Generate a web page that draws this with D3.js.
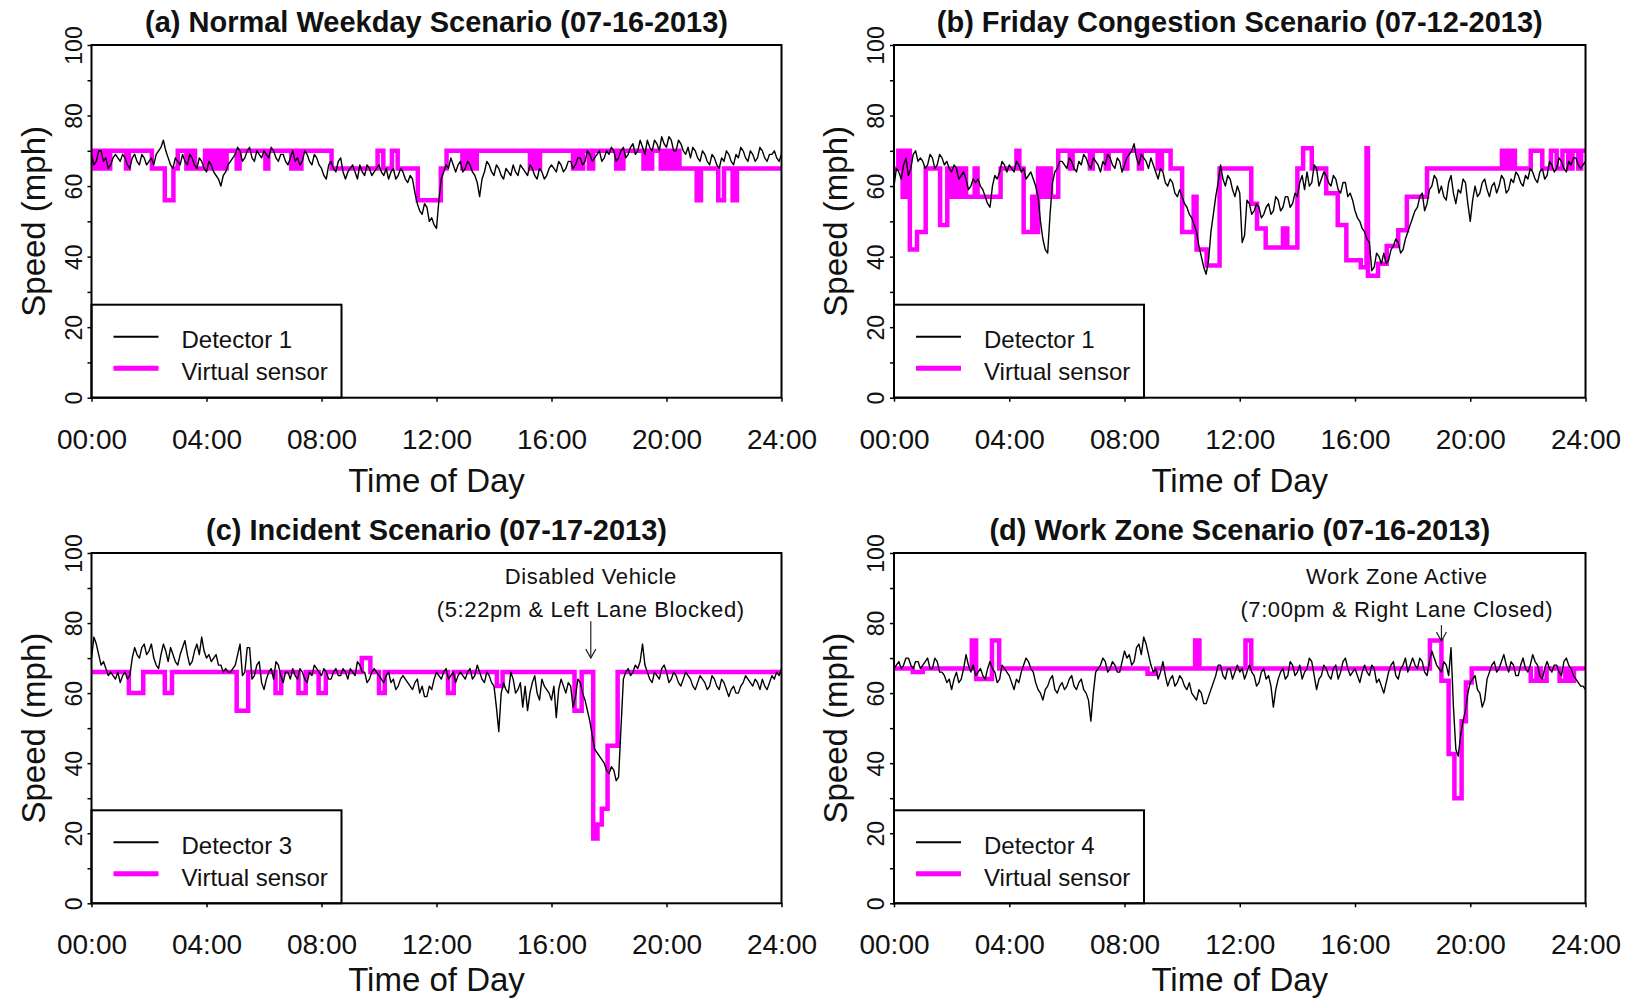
<!DOCTYPE html>
<html>
<head>
<meta charset="utf-8">
<script src="https://cdn.jsdelivr.net/npm/d3@7"></script>
<style>
  html, body { margin: 0; padding: 0; background: #fff; }
  svg { display: block; }
  text { font-family: "Liberation Sans", Arial, Helvetica, sans-serif; fill: #111; }
</style>
</head>
<body>
<svg id="chart" width="1625" height="1000"></svg>
<script>
// ---------- axis ticks and labels ----------
const hourTicks = [0, 4, 8, 12, 16, 20, 24];
const hourLabels = ["00:00", "04:00", "08:00", "12:00", "16:00", "20:00", "24:00"];
const speedTicks = [0, 10, 20, 30, 40, 50, 60, 70, 80, 90, 100];
const speedLabels = [0, 20, 40, 60, 80, 100];

const panelTitles = [
  "(a) Normal Weekday Scenario (07-16-2013)",
  "(b) Friday Congestion Scenario (07-12-2013)",
  "(c) Incident Scenario (07-17-2013)",
  "(d) Work Zone Scenario (07-16-2013)"
];
const detectorNames = ["Detector 1", "Detector 1", "Detector 3", "Detector 4"];
const sensorName = "Virtual sensor";

// ---------- detector speeds (mph), one reading every 5 minutes, 00:00 - 24:00 (one row per hour) ----------
const detectorA = [
  69,66,67,70,70,67,68,65,66,68,69,68,
  67,69,68,66,65,68,69,67,66,69,68,66,
  67,68,66,69,70,71,73,70,68,66,65,68,
  67,66,69,67,66,69,68,66,65,68,67,65,
  64,67,66,64,63,62,60,63,64,66,67,68,
  69,71,70,67,68,70,71,68,67,70,69,68,
  70,69,68,71,70,68,67,69,69,67,66,68,
  70,67,68,66,67,70,69,67,66,69,68,66,
  65,63,62,66,67,65,64,67,68,64,62,64,
  65,66,64,62,66,64,63,66,65,63,64,65,
  66,64,63,65,62,64,65,62,63,65,64,62,
  61,63,62,58,55,53,52,55,54,50,51,49,
  48,56,62,64,66,65,68,66,64,66,67,64,
  65,67,66,64,63,61,57,62,64,67,66,64,
  63,66,65,63,62,65,64,63,66,64,63,66,
  65,64,63,66,65,63,62,65,64,62,63,65,
  66,65,64,67,66,64,65,67,67,65,66,68,
  68,66,67,70,69,67,68,69,70,67,68,70,
  69,71,70,67,68,70,71,68,69,71,72,69,
  70,73,71,69,73,71,70,73,72,70,74,72,
  71,74,73,70,70,73,72,70,69,71,68,71,
  70,68,67,70,69,67,66,69,68,66,65,68,
  67,70,69,67,66,69,68,71,70,68,67,70,
  69,67,68,71,70,68,67,69,69,70,68,67,
  69
];
const detectorB = [
  60,65,64,62,66,68,63,65,69,70,67,68,
  67,65,66,69,68,65,66,69,68,66,67,65,
  64,66,65,62,63,64,62,59,60,62,61,62,
  60,59,57,55,54,60,63,62,64,67,66,64,
  66,65,64,67,66,64,65,62,63,64,62,60,
  57,50,45,42,41,52,61,64,65,67,67,66,
  65,68,67,65,64,67,66,69,68,66,65,68,
  67,66,64,67,66,69,68,66,65,68,67,64,
  66,68,69,70,72,68,66,69,68,67,65,68,
  66,64,62,65,64,61,60,62,61,58,57,59,
  57,55,54,52,51,49,47,43,40,37,35,39,
  47,52,57,61,66,62,60,63,62,59,57,60,
  58,44,46,56,55,52,53,55,54,51,52,54,
  55,52,53,57,56,53,54,57,57,54,55,58,
  57,61,63,59,64,60,61,66,65,60,62,64,
  63,61,60,63,62,59,58,61,61,57,58,56,
  53,51,50,48,47,45,44,36,37,41,40,38,
  41,38,39,42,43,45,44,41,42,45,47,49,
  51,53,54,57,58,53,55,59,60,63,62,58,
  60,57,56,61,63,58,55,59,58,62,61,55,
  50,56,60,57,58,61,62,59,57,60,61,58,
  60,63,62,58,59,62,61,64,63,61,60,63,
  62,65,64,62,61,64,65,62,63,67,66,64,
  65,68,67,65,64,67,66,68,68,66,65,66,
  67
];
const detectorC = [
  70,76,74,71,68,69,67,65,66,65,64,66,
  63,65,66,64,65,70,73,71,70,73,74,71,
  72,74,70,68,67,71,74,72,69,73,71,69,
  68,71,73,75,71,68,69,72,74,71,76,72,
  70,71,69,70,71,68,68,66,67,66,66,67,
  68,71,74,65,66,73,73,64,65,68,69,63,
  61,64,66,67,64,69,68,65,63,66,66,64,
  67,65,64,67,66,64,63,66,65,68,67,66,
  65,67,66,64,64,66,67,65,65,67,66,64,
  67,66,65,69,68,66,66,63,64,66,67,66,
  65,64,63,65,66,63,64,61,62,64,65,64,
  63,62,61,63,64,60,62,59,59,62,61,64,
  66,65,64,66,67,64,65,66,63,65,66,65,
  64,66,67,64,65,68,66,64,63,66,65,63,
  62,56,49,60,63,61,60,66,64,60,61,63,
  56,62,55,60,63,65,60,58,64,62,61,60,
  58,62,53,61,64,62,60,63,62,56,59,64,
  63,60,58,55,52,48,44,43,42,41,40,38,
  37,39,38,35,36,50,64,66,67,65,66,68,
  67,69,74,68,66,64,63,66,65,64,67,68,
  66,63,64,66,65,63,62,64,66,65,64,62,
  61,63,65,64,63,61,62,65,64,62,61,64,
  63,61,59,61,62,60,60,62,63,65,64,63,
  62,64,63,61,64,62,61,63,65,64,66,65,
  67
];
const detectorD = [
  67,68,69,67,68,70,70,68,67,69,69,67,
  68,69,70,67,67,70,69,66,66,65,63,64,
  61,64,66,63,64,67,71,68,66,68,65,66,
  67,65,64,67,69,67,66,63,64,68,67,66,
  65,63,61,64,63,66,68,70,69,67,66,63,
  61,60,58,61,62,64,65,61,60,62,63,61,
  62,64,65,62,61,63,64,61,60,58,52,60,
  66,67,68,70,69,66,67,69,68,66,66,69,
  72,70,71,68,69,73,74,71,76,74,71,68,
  66,67,64,66,69,65,62,64,65,62,63,65,
  64,62,61,63,60,59,58,61,60,57,57,59,
  61,63,65,68,68,65,64,67,67,64,66,68,
  66,67,64,66,68,66,65,62,63,66,67,64,
  65,62,56,61,64,66,67,64,65,69,68,65,
  66,68,64,66,67,70,69,65,61,64,65,68,
  67,65,64,67,68,64,66,69,70,67,65,66,
  67,65,63,66,68,66,65,68,67,63,64,62,
  60,63,66,68,69,65,64,67,68,70,66,68,
  70,68,67,70,69,66,65,69,72,70,68,67,
  66,69,68,65,73,56,44,42,48,52,55,60,
  63,64,65,61,60,56,58,64,66,68,69,66,
  67,69,71,68,66,69,68,65,65,68,70,67,
  66,68,71,69,68,65,64,67,69,67,66,68,
  68,66,65,69,70,68,67,65,64,63,62,62,
  61
];

// ---------- virtual sensor estimates: [hour when the value changes, speed mph] ----------
const virtualA = [
  [0,70],[0.1,65],[0.2,70],[0.3,65],[0.45,70],[0.55,65],[0.65,70],[1.2,65],[1.3,70],
  [2.1,65],[2.55,56],[2.85,65],[3.0,70],[3.3,65],[3.45,70],[3.6,65],[3.95,70],[4.1,65],
  [4.25,70],[4.35,65],[4.5,70],[4.6,65],[4.7,70],[5.05,65],[5.15,70],[6.05,65],[6.15,70],
  [6.95,65],[7.05,70],[7.2,65],[7.3,70],[8.35,65],[9.95,70],[10.15,65],[10.45,70],[10.65,65],
  [11.35,56],[12.15,65],[12.35,70],[12.9,65],[13.0,70],[13.1,65],[13.2,70],[13.3,65],[13.4,70],
  [15.25,65],[15.35,70],[15.5,65],[15.6,70],[16.75,65],[16.85,70],[17.0,65],[17.1,70],
  [17.3,65],[17.45,70],[18.25,65],[18.35,70],[18.45,65],[18.5,70],[19.2,65],[19.3,70],
  [19.4,65],[19.5,70],[19.8,65],[19.9,70],[20.0,65],[20.1,70],[20.2,65],[20.3,70],[20.45,65],
  [21.05,56],[21.2,65],[21.8,56],[22.0,65],[22.3,56],[22.45,65]
];
const virtualB = [
  [0,65],[0.15,70],[0.3,57],[0.4,70],[0.55,42],[0.8,47],[1.1,65],[1.6,49],[1.85,65],
  [2.0,57],[2.1,65],[2.25,57],[2.4,65],[2.5,57],[2.8,65],[2.9,57],[3.7,65],[4.25,70],
  [4.35,65],[4.5,47],[4.8,57],[4.9,47],[5.0,65],[5.15,57],[5.3,65],[5.45,57],[5.7,70],
  [6.1,65],[6.2,70],[6.8,65],[6.9,70],[7.35,65],[7.45,70],[8.0,65],[8.1,70],[8.5,65],
  [8.6,70],[9.15,65],[9.3,70],[9.6,65],[10.0,47],[10.4,57],[10.5,42],[10.85,37.5],[11.3,65],
  [12.4,55],[12.6,48],[12.9,42.6],[13.5,48],[13.65,42.6],[14.0,65],[14.2,70.7],[14.5,65],
  [15.0,58],[15.4,49],[15.7,39],[16.2,37],[16.4,70.7],[16.45,34.6],[16.8,38],[17.1,43],
  [17.5,47.5],[17.8,57],[18.5,65],[21.1,70],[21.25,65],[21.4,70],[21.55,65],[22.1,70],
  [22.5,65],[22.8,70],[23.0,65],[23.2,70],[23.4,65],[23.55,70],[23.75,65],[23.85,70]
];
const virtualC = [
  [0,66],[1.3,60],[1.8,66],[2.55,60],[2.8,66],[5.05,55],[5.45,66],[6.4,60],[6.6,66],
  [7.2,60],[7.45,66],[7.9,60],[8.15,66],[9.4,70],[9.7,66],[10.0,60],[10.2,66],[12.4,60],
  [12.6,66],[14.1,62],[14.3,66],[16.8,55],[17.05,66],[17.45,18.5],[17.6,22.5],[17.75,27],
  [17.95,45],[18.3,66]
];
const virtualD = [
  [0,67],[0.65,66],[1.0,67],[2.7,75],[2.85,64],[3.4,75],[3.65,67],[8.8,65.5],[9.1,67],
  [10.45,75],[10.6,67],[12.2,75],[12.4,67],[18.6,75],[19.0,63.5],[19.25,42.6],[19.45,30],
  [19.7,52],[19.85,63],[20.05,67],[22.1,63.5],[22.3,67],[22.45,63.5],[22.65,67],[23.1,63.5],
  [23.3,67],[23.45,63.5],[23.6,67]
];

// ---------- event notes ----------
const noteLinesC = ["Disabled Vehicle", "(5:22pm & Left Lane Blocked)"];
const noteLinesD = ["Work Zone Active", "(7:00pm & Right Lane Closed)"];
const noteTimeC = 17 + 22 / 60;
const noteTimeD = 19;

// ---------- layout ----------
const minutesPerReading = 5;
const panels = [
  { title: panelTitles[0], name: detectorNames[0], det: detectorA, virt: virtualA,
    left: 91.5, right: 781.5, top: 45, bottom: 397.7, xTitleGap: 94 },
  { title: panelTitles[1], name: detectorNames[1], det: detectorB, virt: virtualB,
    left: 894, right: 1585.5, top: 45, bottom: 397.7, xTitleGap: 94 },
  { title: panelTitles[2], name: detectorNames[2], det: detectorC, virt: virtualC,
    left: 91.5, right: 781.5, top: 553, bottom: 903.3, xTitleGap: 88,
    note: { lines: noteLinesC, time: noteTimeC, textTime: noteTimeC, tip: 70, tail: 80.5 } },
  { title: panelTitles[3], name: detectorNames[3], det: detectorD, virt: virtualD,
    left: 894, right: 1585.5, top: 553, bottom: 903.3, xTitleGap: 88,
    note: { lines: noteLinesD, time: noteTimeD, textTime: 17.45, tip: 74.9, tail: 79.4 } }
];

const MAGENTA = "#ff00ff";
const svg = d3.select("#chart");

panels.forEach((p, pi) => {
  const x = d3.scaleLinear().domain([0, 24]).range([p.left, p.right]);
  const y = d3.scaleLinear().domain([0, 100]).range([p.bottom, p.top]);
  const g = svg.append("g").attr("class", "panel");

  const clipId = "clip" + pi;
  svg.append("clipPath").attr("id", clipId)
    .append("rect")
    .attr("x", p.left).attr("y", p.top)
    .attr("width", p.right - p.left).attr("height", p.bottom - p.top);

  // title
  g.append("text")
    .attr("x", (p.left + p.right) / 2)
    .attr("y", p.top - 13)
    .attr("text-anchor", "middle")
    .style("font-size", "29px")
    .style("font-weight", "bold")
    .text(p.title);

  // series
  const detPoints = p.det.map((v, i) => ({ t: i * minutesPerReading / 60, v }));
  const virtPoints = p.virt.map(d => ({ t: d[0], v: d[1] }));
  virtPoints.push({ t: 24, v: p.virt[p.virt.length - 1][1] });

  const lines = g.append("g").attr("clip-path", `url(#${clipId})`);
  lines.append("path")
    .datum(virtPoints)
    .attr("fill", "none")
    .attr("stroke", MAGENTA)
    .attr("stroke-width", 4.5)
    .attr("d", d3.line().x(d => x(d.t)).y(d => y(d.v)).curve(d3.curveStepAfter));
  lines.append("path")
    .datum(detPoints)
    .attr("fill", "none")
    .attr("stroke", "#000")
    .attr("stroke-width", 1.4)
    .attr("stroke-linejoin", "round")
    .attr("d", d3.line().x(d => x(d.t)).y(d => y(d.v)));

  // x axis
  const xAxis = d3.axisBottom(x)
    .tickValues(hourTicks)
    .tickFormat((d, i) => hourLabels[i])
    .tickSize(4).tickSizeOuter(0).tickPadding(27);
  const gx = g.append("g").attr("transform", `translate(0,${p.bottom})`).call(xAxis);
  gx.select(".domain").remove();
  gx.selectAll(".tick line").attr("stroke", "#000").attr("stroke-width", 1.5);
  gx.selectAll(".tick text").style("font-size", "28px").attr("fill", "#1a1a1a");

  // y axis, rotated labels
  const yAxis = d3.axisLeft(y)
    .tickValues(speedTicks)
    .tickFormat(d => speedLabels.includes(d) ? d : "")
    .tickSize(4).tickSizeOuter(0);
  const gy = g.append("g").attr("transform", `translate(${p.left},0)`).call(yAxis);
  gy.select(".domain").remove();
  gy.selectAll(".tick line").attr("stroke", "#000").attr("stroke-width", 1.5);
  gy.selectAll(".tick text")
    .attr("x", null).attr("dy", null)
    .attr("transform", "translate(-10,0) rotate(-90)")
    .attr("text-anchor", "middle")
    .style("font-size", "23px")
    .attr("fill", "#1a1a1a");

  // axis titles
  g.append("text")
    .attr("transform", `translate(${p.left - 47},${(p.top + p.bottom) / 2}) rotate(-90)`)
    .attr("text-anchor", "middle")
    .style("font-size", "33px")
    .text("Speed (mph)");
  g.append("text")
    .attr("x", (p.left + p.right) / 2)
    .attr("y", p.bottom + p.xTitleGap)
    .attr("text-anchor", "middle")
    .style("font-size", "33px")
    .text("Time of Day");

  // legend
  const lg = g.append("g").attr("transform", `translate(${p.left},${p.bottom - 93})`);
  lg.append("rect")
    .attr("width", 250).attr("height", 93)
    .attr("fill", "#fff").attr("stroke", "#000").attr("stroke-width", 2);
  lg.append("line").attr("x1", 22).attr("x2", 67).attr("y1", 32).attr("y2", 32)
    .attr("stroke", "#000").attr("stroke-width", 2);
  lg.append("line").attr("x1", 22).attr("x2", 67).attr("y1", 63.5).attr("y2", 63.5)
    .attr("stroke", MAGENTA).attr("stroke-width", 5);
  lg.append("text").attr("x", 90).attr("y", 43.5).style("font-size", "24px").text(p.name);
  lg.append("text").attr("x", 90).attr("y", 75.5).style("font-size", "24px").text(sensorName);

  // event note with arrow
  if (p.note) {
    const n = p.note;
    const tx = x(n.textTime);
    n.lines.forEach((line, li) => {
      g.append("text")
        .attr("x", tx)
        .attr("y", p.top + 30.5 + li * 33.5)
        .attr("text-anchor", "middle")
        .style("font-size", "22px")
        .style("letter-spacing", "0.6px")
        .text(line);
    });
    const ax = x(n.time);
    const yTip = y(n.tip), yTail = y(n.tail);
    g.append("line")
      .attr("x1", ax).attr("x2", ax).attr("y1", yTail).attr("y2", yTip)
      .attr("stroke", "#222").attr("stroke-width", 1.2);
    g.append("path")
      .attr("d", `M${ax - 5},${yTip - 9}L${ax},${yTip}L${ax + 5},${yTip - 9}`)
      .attr("fill", "none").attr("stroke", "#222").attr("stroke-width", 1.2);
  }

  // plot frame
  g.append("rect")
    .attr("x", p.left).attr("y", p.top)
    .attr("width", p.right - p.left).attr("height", p.bottom - p.top)
    .attr("fill", "none").attr("stroke", "#000").attr("stroke-width", 2);
});
</script>
</body>
</html>
